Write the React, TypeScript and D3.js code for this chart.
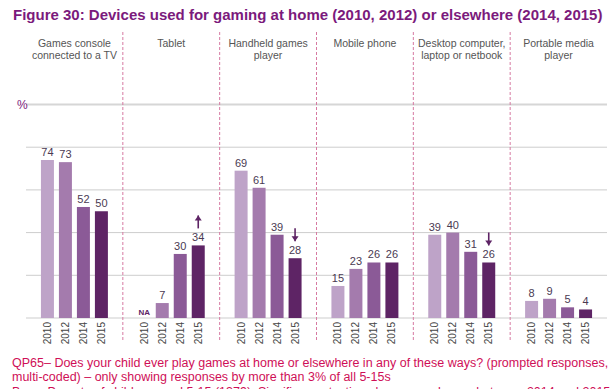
import React from "react";
import * as d3 from "d3";

const categories = [
  "Games console|connected to a TV",
  "Tablet",
  "Handheld games|player",
  "Mobile phone",
  "Desktop computer,|laptop or netbook",
  "Portable media|player",
];
const years = ["2010", "2012", "2014", "2015"];
const v2010: (number | null)[] = [74, null, 69, 15, 39, 8];
const v2012: (number | null)[] = [73, 7, 61, 23, 40, 9];
const v2014: (number | null)[] = [52, 30, 39, 26, 31, 5];
const v2015: (number | null)[] = [50, 34, 28, 26, 26, 4];
const changeArrows = ["", "up", "down", "", "down", ""];
const yTicks = [0, 20, 40, 60, 80, 100];

const seriesValues = [v2010, v2012, v2014, v2015];
const colors = ["#bea3c8", "#a47bad", "#8b5a97", "#5e2465"];

const W = 611;
const H = 389;

export default function App() {
  const x0 = d3.scaleBand<string>().domain(categories).range([26, 607]);
  const x1 = d3
    .scaleBand<string>()
    .domain(years)
    .range([0, x0.step()])
    .paddingInner(0.278)
    .paddingOuter(0.83);
  const y = d3.scaleLinear().domain([0, 100]).range([318, 104.5]);

  return (
    <svg
      width={W}
      height={H}
      style={{ position: "absolute", left: 0, top: 0, fontFamily: "Arial, 'Liberation Sans', sans-serif" }}
    >
      <rect width={W} height={H} fill="#fff" />
      <text x={13} y={20} fontSize={15} fontWeight="bold" fill="#7b1a7c">
        Figure 30: Devices used for gaming at home (2010, 2012) or elsewhere (2014, 2015)
      </text>
      {yTicks.map((t) => (
        <line
          key={t}
          x1={26}
          x2={607}
          y1={y(t)}
          y2={y(t)}
          stroke={t === 100 ? "#d6d6d6" : "#cdcdcd"}
          strokeWidth={t === 100 ? 2 : 1}
        />
      ))}
      <text x={17} y={109} fontSize={12} fill="#7b1a7c">%</text>
      {categories.slice(1).map((c) => (
        <line
          key={c}
          x1={x0(c)!}
          x2={x0(c)!}
          y1={32}
          y2={341}
          stroke="#d67aa2"
          strokeWidth={1}
          strokeDasharray="3,2"
        />
      ))}
      {categories.map((c, ci) => {
        const px = x0(c)!;
        const cx = px + x0.bandwidth() / 2;
        const lines = c.split("|");
        return (
          <g key={c}>
            {lines.map((l, li) => (
              <text key={li} x={cx} y={47 + li * 12} fontSize={10.5} fill="#555" textAnchor="middle">
                {l}
              </text>
            ))}
            {years.map((yr, yi) => {
              const v = seriesValues[yi][ci];
              const bx = px + x1(yr)!;
              const bc = bx + x1.bandwidth() / 2;
              return (
                <g key={yr}>
                  {v !== null ? (
                    <>
                      <rect x={bx} y={y(v)} width={x1.bandwidth()} height={y(0) - y(v)} fill={colors[yi]} />
                      <text x={bc} y={y(v) - 4} fontSize={11} fill="#4a3a52" textAnchor="middle">
                        {v}
                      </text>
                    </>
                  ) : (
                    <text x={bc} y={315} fontSize={8} fontWeight="bold" fill="#5e2465" textAnchor="middle">
                      NA
                    </text>
                  )}
                  <text
                    transform={`translate(${bc},322) rotate(-90)`}
                    fontSize={10}
                    fill="#444"
                    textAnchor="end"
                    dy="0.35em"
                  >
                    {yr}
                  </text>
                </g>
              );
            })}
            {changeArrows[ci] !== "" && (() => {
              const v = v2015[ci] as number;
              const bc = px + x1("2015")! + x1.bandwidth() / 2;
              const bottom = y(v) - 17;
              const top = bottom - 13;
              const up = changeArrows[ci] === "up";
              const tipY = up ? top : bottom;
              const dir = up ? 1 : -1;
              return (
                <g>
                  <line x1={bc} x2={bc} y1={top} y2={bottom} stroke="#5e2465" strokeWidth={1.6} />
                  <path
                    d={`M${bc - 3.5},${tipY + dir * 5} L${bc},${tipY} L${bc + 3.5},${tipY + dir * 5} Z`}
                    fill="#5e2465"
                  />
                </g>
              );
            })()}
          </g>
        );
      })}
      <g fontSize={12.5} fill="#cf0f57">
        <text x={12} y={367}>
          QP65– Does your child ever play games at home or elsewhere in any of these ways? (prompted responses,
        </text>
        <text x={12} y={381}>
          multi-coded) – only showing responses by more than 3% of all 5-15s
        </text>
        <text x={12} y={395.5}>
          Base: Parents of children aged 5-15 (1379). Significance testing shows any change between 2014 and 2015
        </text>
      </g>
    </svg>
  );
}
